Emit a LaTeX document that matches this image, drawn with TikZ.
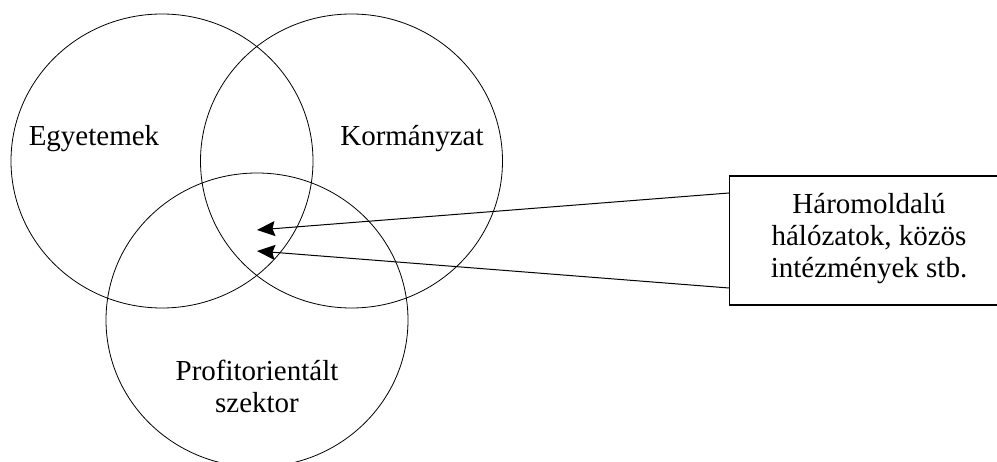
\documentclass[tikz,border=0pt]{standalone}
\usepackage{fontspec}
\setmainfont{Liberation Serif}
\usetikzlibrary{shapes.geometric,arrows.meta}
\begin{document}
\begin{tikzpicture}[x=1pt,y=1pt,
  circ/.style={draw, ellipse, inner sep=0pt, minimum width=302pt, minimum height=294pt, line width=0.8pt},
  lbl/.style={font=\fontsize{29}{31.5}\selectfont, inner sep=0pt, align=center},
  infobox/.style={draw, rectangle, line width=1.2pt, minimum width=360pt, minimum height=129pt, inner sep=0pt},
  arr/.style={line width=1pt, -{Stealth[length=18pt,width=15pt,inset=2.5pt]}}]
\useasboundingbox (0,0) rectangle (997,461);
\clip (0,0) rectangle (997,461);
\fill[white] (0,0) rectangle (997,461);
\node[circ] (univ) at (162,300) {};
\node[circ] (gov) at (351.5,300) {};
\node[circ] (ind) at (257,141) {};
\node[lbl, anchor=base] (lu) at (94,315) {Egyetemek};
\node[lbl, anchor=base] (lg) at (412,315) {Kormányzat};
\node[lbl] (li) at (257,74.5) {Profitorientált\\szektor};
\node[infobox, anchor=west] (box) at (729,220.5) {};
\node[lbl, font=\fontsize{29}{32}\selectfont] (boxtxt) at (869,222) {Háromoldalú\\hálózatok, közös\\intézmények stb.};
\coordinate (t1) at (257,231);
\coordinate (t2) at (257,210);
\draw[arr] ([yshift=47.5pt]box.west) -- (t1);
\draw[arr] ([yshift=-47.5pt]box.west) -- (t2);
\end{tikzpicture}
\end{document}
